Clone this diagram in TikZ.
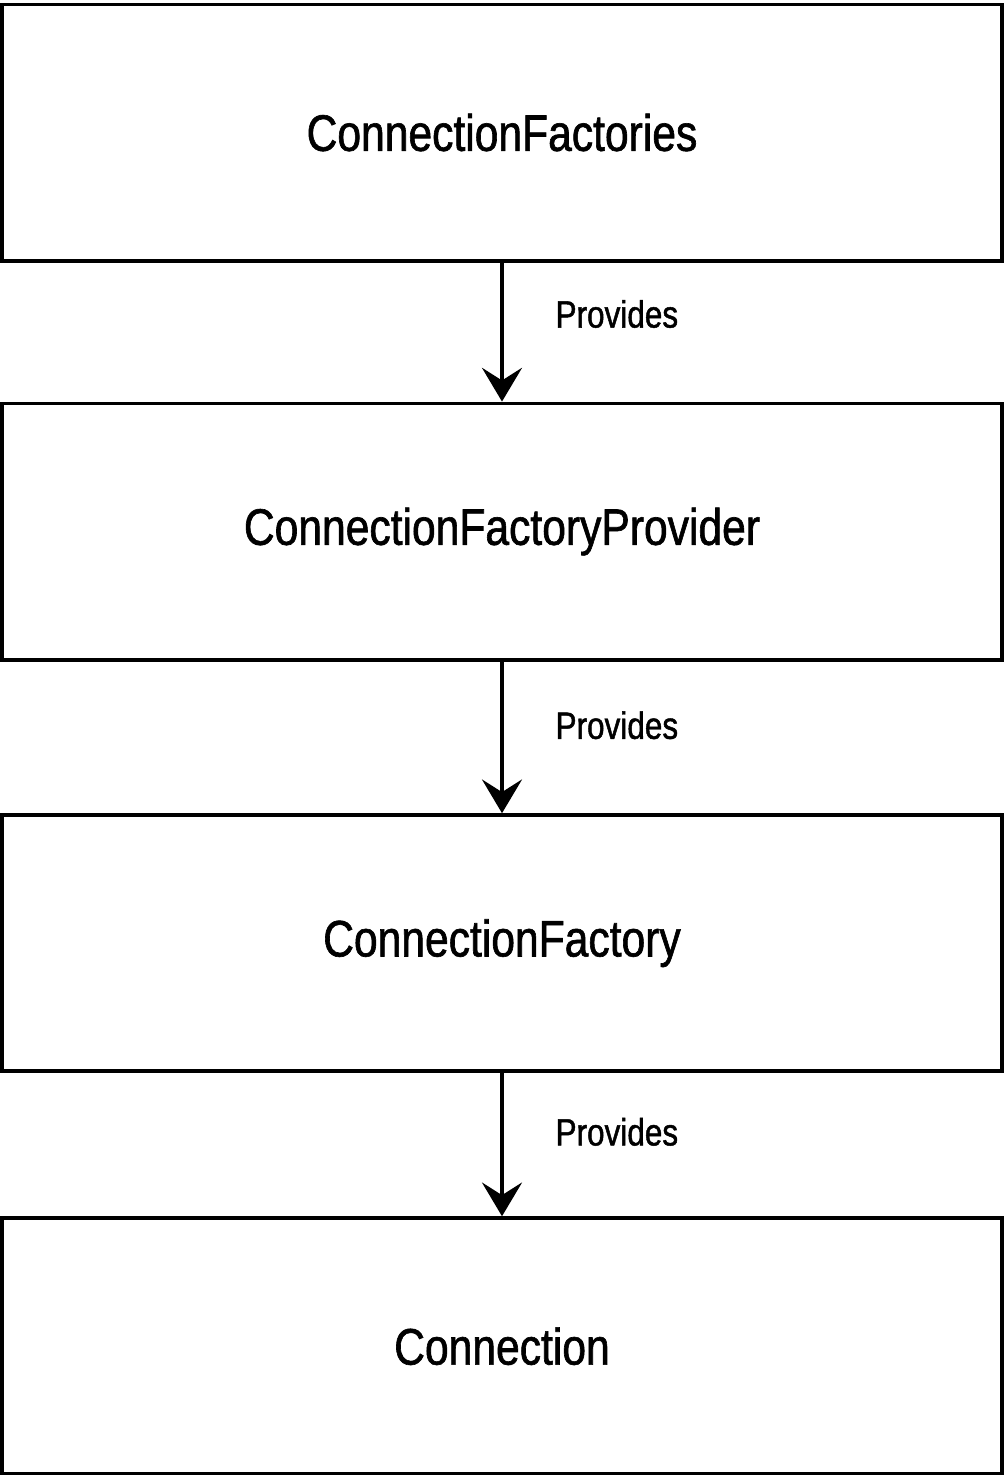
\documentclass[tikz,border=0pt]{standalone}
\usepackage{fontspec}
\setmainfont{Liberation Sans}[FakeStretch=0.83,FakeBold=1.2]
\usetikzlibrary{arrows.meta,positioning}

\begin{document}
\begin{tikzpicture}[x=0.025cm,y=-0.025cm,
  box/.style={draw,line width=2.8pt,minimum width=25cm,minimum height=6.4cm,
    inner sep=0pt,font=\fontsize{36.5}{40}\selectfont},
  flow/.style={line width=2.2pt,-{Stealth[length=24pt,width=28.5pt,inset=9pt]}},
  edgetext/.style={pos=0.37,anchor=west,xshift=1.3cm,inner sep=0pt,
    font=\fontsize{27}{30}\selectfont}]
  \useasboundingbox (0,0) rectangle (1004,1475);
  \node[box] (factories) at (502,132.5) {ConnectionFactories};
  \node[box,below=3.475cm of factories] (provider) {ConnectionFactoryProvider};
  \node[box,below=3.79cm of provider] (factory) {ConnectionFactory};
  \node[box,below=3.575cm of factory] (connection) {Connection};
  \draw[flow] (factories) -- node[edgetext] {Provides} (provider);
  \draw[flow] (provider) -- node[edgetext,pos=0.42] {Provides} (factory);
  \draw[flow] (factory) -- node[edgetext,pos=0.41] {Provides} (connection);
\end{tikzpicture}
\end{document}
